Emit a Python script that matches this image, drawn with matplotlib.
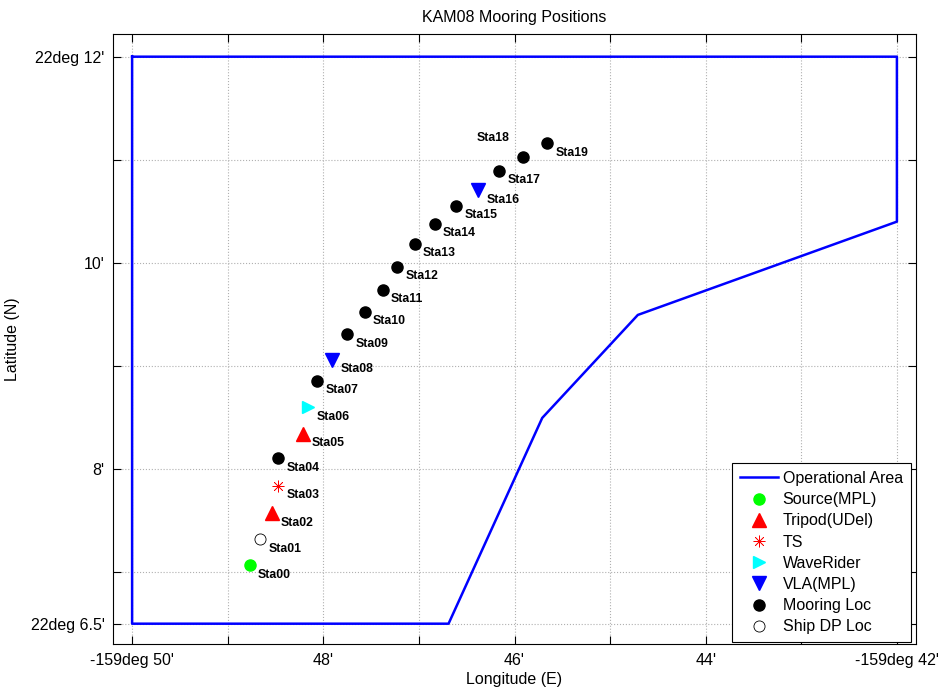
import matplotlib
matplotlib.use("Agg")
import matplotlib.pyplot as plt
from matplotlib.lines import Line2D

plt.rcParams['font.family'] = ['Liberation Sans', 'DejaVu Sans']

# ---- data (minutes west of 159deg W, minutes north of 22deg N) ----
area_lon_min = [50.0, 42.0, 42.0, 44.71, 45.71, 46.69, 50.0, 50.0]
area_lat_min = [12.0, 12.0, 10.40, 9.495, 8.496, 6.5, 6.5, 12.0]

sta_names = ['Sta%02d' % i for i in range(20)]
sta_lon_min = [48.77, 48.657, 48.536, 48.473, 48.469, 48.211, 48.159, 48.061,
               47.904, 47.751, 47.566, 47.378, 47.224, 47.043, 46.834, 46.614,
               46.377, 46.161, 45.906, 45.655]
sta_lat_min = [7.067, 7.319, 7.571, 7.836, 8.105, 8.34, 8.60, 8.854,
               9.061, 9.307, 9.527, 9.737, 9.963, 10.183, 10.377, 10.555,
               10.704, 10.894, 11.030, 11.16]
sta_type = ['source', 'ship', 'tripod', 'ts', 'mooring', 'tripod', 'wave', 'mooring',
            'vla', 'mooring', 'mooring', 'mooring', 'mooring', 'mooring', 'mooring', 'mooring',
            'vla', 'mooring', 'mooring', 'mooring']

xtick_min = [50, 49, 48, 47, 46, 45, 44, 43, 42]
xtick_labels = ["-159deg 50'", "", "48'", "", "46'", "", "44'", "", "-159deg 42'"]
ytick_min = [6.5, 7, 8, 9, 10, 11, 12]
ytick_labels = ["22deg 6.5'", "", "8'", "", "10'", "", "22deg 12'"]

LON0, LAT0 = -159.0, 22.0
def lon(m):
    return LON0 - m / 60.0
def lat(m):
    return LAT0 + m / 60.0

styles = {
    'source':  dict(marker='o', color=(0, 1, 0), ms=8, mec=(0, 1, 0), label='Source(MPL)'),
    'tripod':  dict(marker='^', color='red', ms=10, mec='red', label='Tripod(UDel)'),
    'ts':      dict(marker=(8, 2, 0), color='red', ms=8.5, mec='red', mew=0.5, label='TS'),
    'wave':    dict(marker='>', color='cyan', ms=8, mec='cyan', label='WaveRider'),
    'vla':     dict(marker='v', color='blue', ms=10.5, mec='blue', label='VLA(MPL)'),
    'mooring': dict(marker='o', color='black', ms=8, mec='black', label='Mooring Loc'),
    'ship':    dict(marker='o', color='white', ms=8, mec='black', mew=0.6, label='Ship DP Loc'),
}

fig = plt.figure(figsize=(9.4, 6.94), dpi=100)
ax = fig.add_axes([0.1202, 0.0716, 0.8543, 0.8794])

ax.plot([lon(m) for m in area_lon_min], [lat(m) for m in area_lat_min],
        color='blue', lw=1.8, zorder=3)

for name, lm, la, t in zip(sta_names, sta_lon_min, sta_lat_min, sta_type):
    s = dict(styles[t])
    s.pop('label')
    col = s.pop('color')
    ax.plot(lon(lm), lat(la), linestyle='none', mfc=col, zorder=4, **s)
    if name == 'Sta18':
        ax.annotate(name, (lon(lm), lat(la)), xytext=(-10, 13.5), textcoords='offset points',
                    ha='right', va='center', fontsize=8.8, fontweight='bold')
    else:
        ax.annotate(name, (lon(lm), lat(la)), xytext=(6, -6.8), textcoords='offset points',
                    ha='left', va='center', fontsize=8.8, fontweight='bold')

ax.set_xlim(lon(50.2), lon(41.8))
ax.set_ylim(lat(6.3), lat(12.22))
ax.set_xticks([lon(m) for m in xtick_min])
ax.set_xticklabels(xtick_labels)
ax.set_yticks([lat(m) for m in ytick_min])
ax.set_yticklabels(ytick_labels)
ax.tick_params(direction='in', length=6, width=0.8, top=True, right=True,
               labelsize=11.5, pad=6)
ax.grid(True, linestyle=':', color='#b0b0b0', linewidth=0.8)
ax.set_axisbelow(True)
for sp in ax.spines.values():
    sp.set_linewidth(0.8)

ax.set_title('KAM08 Mooring Positions', fontsize=11.5, pad=9)
ax.set_xlabel('Longitude (E)', fontsize=11.5, labelpad=3)
ax.set_ylabel('Latitude (N)', fontsize=11.5, labelpad=8)

handles = [Line2D([], [], color='blue', lw=1.8, label='Operational Area')]
for key in ['source', 'tripod', 'ts', 'wave', 'vla', 'mooring', 'ship']:
    s = dict(styles[key])
    lab = s.pop('label')
    col = s.pop('color')
    handles.append(Line2D([], [], linestyle='none', mfc=col, label=lab, **s))
leg = ax.legend(handles=handles, loc='lower right', fontsize=11.5, frameon=True,
                fancybox=False, framealpha=1, edgecolor='black', labelspacing=0.39,
                handlelength=2.4, handletextpad=0.3, borderpad=0.5,
                bbox_to_anchor=(0.9935, 0.003), borderaxespad=0.0)
leg.get_frame().set_linewidth(0.8)

fig.savefig('out.png', dpi=100)
